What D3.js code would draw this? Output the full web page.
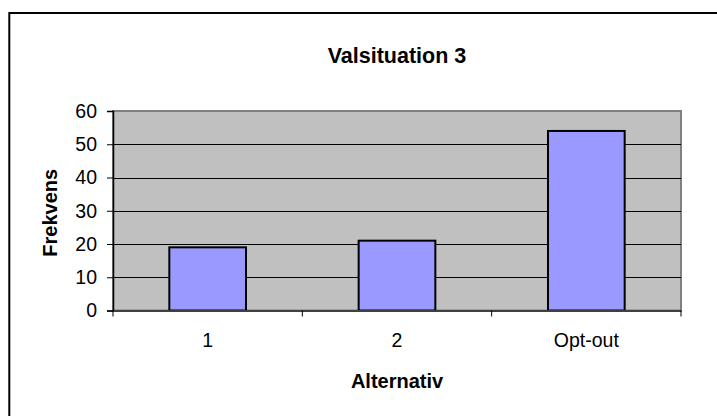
<!DOCTYPE html>
<html>
<head>
<meta charset="utf-8">
<script src="https://cdn.jsdelivr.net/npm/d3@7"></script>
<style>
  html, body { margin: 0; padding: 0; background: #fff; }
  svg { display: block; }
  text { font-family: "Liberation Sans", Arial, sans-serif; fill: #000; }
</style>
</head>
<body>
<svg id="chart" width="717" height="416"></svg>
<script>
// Chart data
const categories = ["1", "2", "Opt-out"];
const values = [19, 21, 54];
const yTicks = [0, 10, 20, 30, 40, 50, 60];
const title = "Valsituation 3";
const xTitle = "Alternativ";
const yTitle = "Frekvens";

const svg = d3.select("#chart");
const W = 717, H = 416;
const plot = { left: 113, right: 681, top: 111, bottom: 310.5 };

// Outer chart frame (runs off the bottom/right edges)
svg.append("rect")
  .attr("x", 9.3).attr("y", 13)
  .attr("width", W + 10).attr("height", H + 10)
  .attr("fill", "#fff").attr("stroke", "#000").attr("stroke-width", 2);

const x = d3.scaleBand().domain(categories).range([plot.left, plot.right]).padding(0);
const y = d3.scaleLinear().domain([0, 60]).range([plot.bottom, plot.top]);

// Plot area background
svg.append("rect")
  .attr("x", plot.left).attr("y", plot.top)
  .attr("width", plot.right - plot.left).attr("height", plot.bottom - plot.top)
  .attr("fill", "#c0c0c0").attr("stroke", "#808080").attr("stroke-width", 2);

// Gridlines
svg.append("g").selectAll("line")
  .data(yTicks.filter(d => d > 0 && d < 60))
  .join("line")
  .attr("x1", plot.left).attr("x2", plot.right)
  .attr("y1", d => Math.round(y(d)) + 0.5).attr("y2", d => Math.round(y(d)) + 0.5)
  .attr("stroke", "#000").attr("stroke-width", 1);

// Bars
const barFrac = 0.405;
svg.append("g").selectAll("rect")
  .data(categories.map((c, i) => ({ c, v: values[i] })))
  .join("rect")
  .attr("x", d => x(d.c) + x.bandwidth() * (1 - barFrac) / 2)
  .attr("width", x.bandwidth() * barFrac)
  .attr("y", d => y(d.v))
  .attr("height", d => y(0) - y(d.v))
  .attr("fill", "#9999ff").attr("stroke", "#000").attr("stroke-width", 2);

// Y axis
const yAxis = svg.append("g")
  .attr("transform", `translate(${plot.left},0)`)
  .call(d3.axisLeft(y).tickValues(yTicks).tickSize(6).tickPadding(10));
yAxis.select(".domain").attr("stroke", "#000").attr("stroke-width", 1.5);
yAxis.selectAll(".tick line").attr("stroke", "#000");
yAxis.selectAll("text").attr("font-size", 19.5);

// X axis with ticks on category boundaries
const xAxis = svg.append("g")
  .attr("transform", `translate(0,${plot.bottom})`)
  .call(d3.axisBottom(x).tickSize(0).tickPadding(23));
xAxis.select(".domain").attr("stroke", "#404040").attr("stroke-width", 2);
xAxis.selectAll("text").attr("font-size", 19.5);
const boundaries = categories.map(c => x(c)).concat([x(categories[categories.length - 1]) + x.bandwidth()]);
svg.append("g").selectAll("line")
  .data(boundaries)
  .join("line")
  .attr("x1", d => d).attr("x2", d => d)
  .attr("y1", plot.bottom).attr("y2", plot.bottom + 6)
  .attr("stroke", "#000").attr("stroke-width", 1);

const cx = (plot.left + plot.right) / 2;

// Titles
svg.append("text")
  .attr("x", cx).attr("y", 63)
  .attr("text-anchor", "middle")
  .attr("font-size", 21.5).attr("font-weight", "bold")
  .text(title);

svg.append("text")
  .attr("x", cx).attr("y", 388)
  .attr("text-anchor", "middle")
  .attr("font-size", 20).attr("font-weight", "bold")
  .text(xTitle);

svg.append("text")
  .attr("transform", `translate(57,${(plot.top + plot.bottom) / 2 + 2}) rotate(-90)`)
  .attr("text-anchor", "middle")
  .attr("font-size", 20).attr("font-weight", "bold")
  .text(yTitle);
</script>
</body>
</html>
